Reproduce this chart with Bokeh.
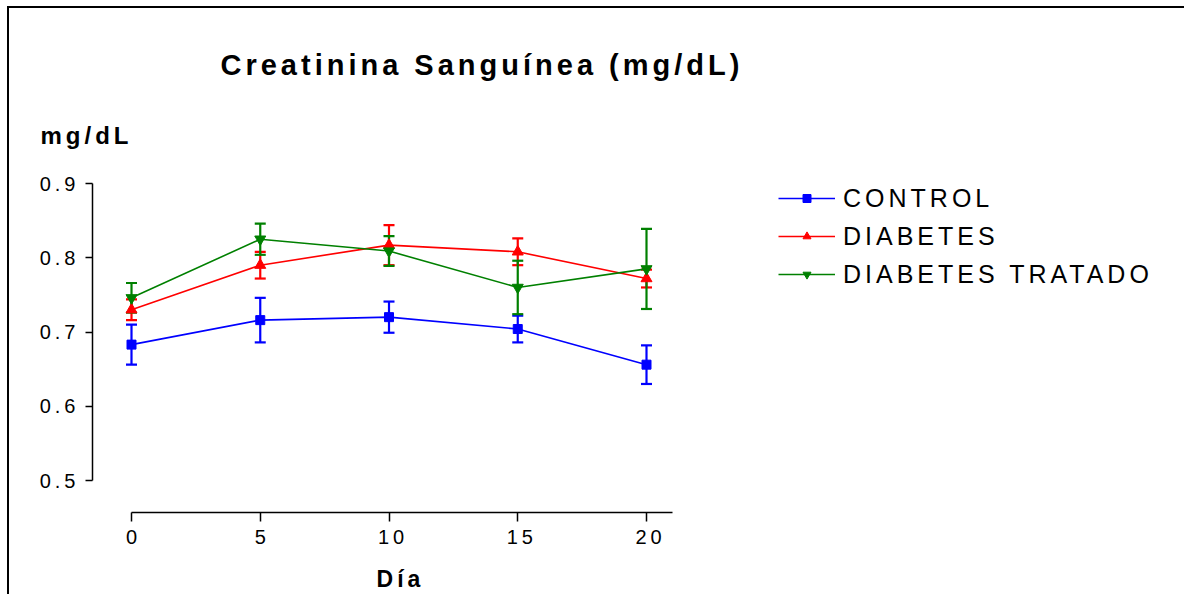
from bokeh.plotting import figure
from bokeh.models import (Range1d, FixedTicker, Label, Legend, LegendItem, Whisker,
                          TeeHead, ColumnDataSource, NumeralTickFormatter)
from bokeh.embed import file_html
from bokeh.resources import INLINE

# ---------------- data ----------------
dias = [0, 5, 10, 15, 20]
series_names = ["CONTROL", "DIABETES", "DIABETES TRATADO"]
control_mean = [0.683, 0.716, 0.720, 0.704, 0.656]
control_sem = [0.027, 0.030, 0.021, 0.018, 0.026]
diabetes_mean = [0.730, 0.790, 0.817, 0.808, 0.772]
diabetes_sem = [0.014, 0.018, 0.027, 0.018, 0.012]
tratado_mean = [0.746, 0.825, 0.809, 0.760, 0.785]
tratado_sem = [0.020, 0.021, 0.020, 0.036, 0.054]
x_ticks = [0, 5, 10, 15, 20]
y_ticks = [0.5, 0.6, 0.7, 0.8, 0.9]
title_text = "Creatinina Sanguínea (mg/dL)"
y_label_text = "mg/dL"
x_label_text = "Día"

# ---------------- layout helpers (reference pixel -> data) ----------------
def px2x(px):
    return (px - 131) / 25.75

def py2y(py):
    return 0.9 - (py - 183) / 742.5

FONT = "Liberation Sans"
OX, OY = 9, 8          # page position of the canvas' top-left corner
W, H = 1177, 588

p = figure(width=W, height=H, output_backend="svg", toolbar_location=None,
           x_range=Range1d(px2x(OX), px2x(OX + W)), y_range=Range1d(py2y(OY + H), py2y(OY)),
           min_border_left=0, min_border_right=0, min_border_top=0, min_border_bottom=0)
p.styles = {"margin-left": "7px", "margin-top": "6px",
            "border-top": "2px solid black", "border-left": "2px solid black",
            "letter-spacing": "4px"}
p.outline_line_color = None
p.xgrid.visible = False
p.ygrid.visible = False
p.background_fill_color = "white"
p.border_fill_color = "white"

for ax in (p.xaxis[0], p.yaxis[0]):
    ax.axis_line_color = "black"
    ax.axis_line_width = 1.5
    ax.major_tick_line_color = "black"
    ax.major_tick_line_width = 1.5
    ax.minor_tick_line_color = None
    ax.major_tick_in = 0
    ax.major_label_text_font = FONT
    ax.major_label_text_font_size = "20px"
    ax.major_label_text_color = "black"

p.xaxis.ticker = FixedTicker(ticks=x_ticks)
p.xaxis.bounds = (0, 21)
p.xaxis.fixed_location = py2y(512)
p.xaxis.major_tick_out = 9
p.xaxis.major_label_standoff = 8
p.yaxis.ticker = FixedTicker(ticks=y_ticks)
p.yaxis.bounds = (0.5, 0.9)
p.yaxis.fixed_location = px2x(92)
p.yaxis.major_tick_out = 7
p.yaxis.major_label_standoff = 18
p.yaxis.formatter = NumeralTickFormatter(format="0.0")

colors = ["#0000FF", "#FF0000", "#008000"]
markers = ["square", "triangle", "inverted_triangle"]
sizes = [9, 11, 11]
means = [control_mean, diabetes_mean, tratado_mean]
sems = [control_sem, diabetes_sem, tratado_sem]

items = []
for name, c, m, s, mean, sem in zip(series_names, colors, markers, sizes, means, sems):
    src = ColumnDataSource(dict(
        x=dias, y=mean,
        upper=[a + b for a, b in zip(mean, sem)],
        lower=[a - b for a, b in zip(mean, sem)]))
    w = Whisker(base="x", upper="upper", lower="lower", source=src, dimension="height",
                line_color=c, line_width=2.2,
                upper_head=TeeHead(size=11, line_color=c, line_width=2.2),
                lower_head=TeeHead(size=11, line_color=c, line_width=2.2))
    p.add_layout(w)
    lr = p.line("x", "y", source=src, line_color=c, line_width=1.6)
    sr = p.scatter("x", "y", source=src, marker=m, size=s, fill_color=c, line_color=c)
    items.append(LegendItem(label=name, renderers=[lr, sr]))

legend = Legend(items=items, location=(778 - OX, OY + H - 289), padding=0, margin=0,
                glyph_width=57, glyph_height=20, label_height=30, spacing=8,
                label_standoff=8, label_text_font=FONT, label_text_font_size="25px",
                label_text_color="black", border_line_color=None,
                background_fill_alpha=0)
p.add_layout(legend, "center")

p.add_layout(Label(x=px2x(220), y=py2y(64), text=title_text, text_font=FONT,
                   text_font_size="29px", text_font_style="bold", text_color="black",
                   text_align="left", text_baseline="alphabetic"))
p.add_layout(Label(x=px2x(40), y=py2y(134.5), text=y_label_text, text_font=FONT,
                   text_font_size="24px", text_font_style="bold", text_color="black",
                   text_align="left", text_baseline="alphabetic"))
p.add_layout(Label(x=px2x(394), y=py2y(578), text=x_label_text, text_font=FONT,
                   text_font_size="23px", text_font_style="bold", text_color="black",
                   text_align="center", text_baseline="alphabetic"))

open("out.html", "w").write(file_html(p, INLINE))
